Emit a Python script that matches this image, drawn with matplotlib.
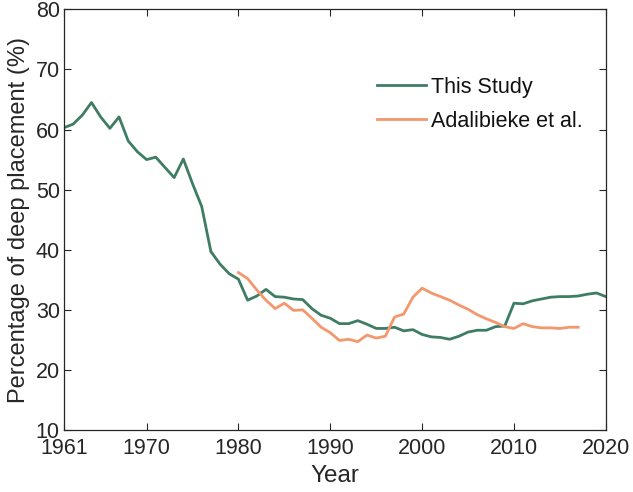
import matplotlib
matplotlib.use("Agg")
import matplotlib.pyplot as plt

plt.rcParams['font.family'] = ['Liberation Sans', 'DejaVu Sans']

years_study = list(range(1961, 2021))
this_study = [60.3, 60.9, 62.4, 64.5, 62.1, 60.2, 62.1, 58.1, 56.3, 55.0,
              55.4, 53.7, 52.0, 55.1, 51.0, 47.2, 39.7, 37.6, 36.0, 35.1,
              31.6, 32.3, 33.4, 32.2, 32.1, 31.8, 31.7, 30.2, 29.1, 28.6,
              27.7, 27.7, 28.2, 27.6, 26.9, 26.9, 27.1, 26.5, 26.7, 25.9,
              25.5, 25.4, 25.1, 25.6, 26.3, 26.6, 26.6, 27.2, 27.3, 31.1,
              31.0, 31.5, 31.8, 32.1, 32.2, 32.2, 32.3, 32.6, 32.8, 32.2]

years_adal = list(range(1980, 2018))
adalibieke = [36.2, 35.2, 33.3, 31.6, 30.2, 31.1, 29.9, 30.0, 28.6, 27.1,
              26.2, 24.9, 25.1, 24.7, 25.8, 25.3, 25.6, 28.8, 29.3, 32.1,
              33.6, 32.8, 32.2, 31.6, 30.8, 30.1, 29.2, 28.5, 27.9, 27.2,
              26.9, 27.7, 27.2, 27.0, 27.0, 26.9, 27.1, 27.1]

x_ticks = [1961, 1970, 1980, 1990, 2000, 2010, 2020]
y_ticks = [10, 20, 30, 40, 50, 60, 70, 80]

green = '#3e7d63'
orange = '#f4976c'
axcol = '#262626'

fig = plt.figure(figsize=(6.33, 4.92), dpi=100)
ax = fig.add_axes([0.101, 0.126, 0.856, 0.855])

ax.plot(years_study, this_study, color=green, lw=2.0, label='This Study')
ax.plot(years_adal, adalibieke, color=orange, lw=2.0, label='Adalibieke et al.')

ax.set_xlim(1961, 2020)
ax.set_ylim(10, 80)
ax.set_xticks(x_ticks)
ax.set_yticks(y_ticks)
ax.tick_params(direction='in', top=True, right=True, length=5, width=0.8,
               labelsize=15.5, colors=axcol)
ax.tick_params(axis='x', pad=6)
ax.tick_params(axis='y', pad=3)
for s in ax.spines.values():
    s.set_color(axcol)
    s.set_linewidth(0.9)

ax.set_xlabel('Year', fontsize=17.5, color=axcol, labelpad=4)
ax.set_ylabel('Percentage of deep placement (%)', fontsize=17, color=axcol, labelpad=4)

leg = ax.legend(loc='upper left', bbox_to_anchor=(0.561, 0.86), frameon=False,
                fontsize=15.5, handlelength=2.3, handletextpad=0.25,
                labelspacing=0.6, borderaxespad=0)
for t in leg.get_texts():
    t.set_color('#111111')

fig.savefig('out.png', dpi=100)
